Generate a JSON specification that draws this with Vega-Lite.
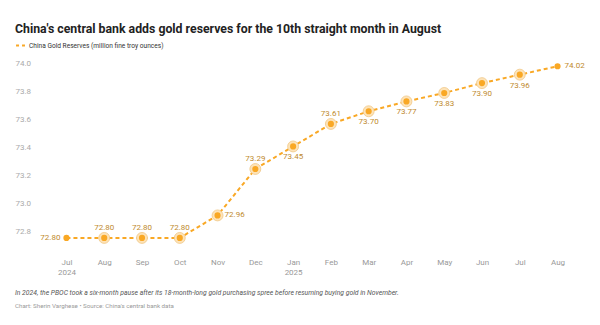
{
  "$schema": "https://vega.github.io/schema/vega-lite/v6.json",
  "padding": {"left": 15, "top": 22, "right": 5, "bottom": 5},
  "background": "white",
  "config": {"view": {"stroke": null}, "font": "Roboto"},
  "title": {
    "text": "In 2024, the PBOC took a six-month pause after its 18-month-long gold purchasing spree before resuming buying gold in November.",
    "subtitle": "Chart: Sherin Varghese • Source: China's central bank data",
    "orient": "bottom", "anchor": "start", "frame": "bounds",
    "font": "Roboto", "fontSize": 6.8, "fontStyle": "italic", "fontWeight": "normal", "color": "#555555",
    "subtitleFont": "Roboto", "subtitleFontSize": 6.2, "subtitleColor": "#999999", "subtitlePadding": 6, "offset": 14
  },
  "datasets": {
    "gold": [
      {"date": "2024-07-01", "value": 72.80},
      {"date": "2024-08-01", "value": 72.80},
      {"date": "2024-09-01", "value": 72.80},
      {"date": "2024-10-01", "value": 72.80},
      {"date": "2024-11-01", "value": 72.96},
      {"date": "2024-12-01", "value": 73.29},
      {"date": "2025-01-01", "value": 73.45},
      {"date": "2025-02-01", "value": 73.61},
      {"date": "2025-03-01", "value": 73.70},
      {"date": "2025-04-01", "value": 73.77},
      {"date": "2025-05-01", "value": 73.83},
      {"date": "2025-06-01", "value": 73.90},
      {"date": "2025-07-01", "value": 73.96},
      {"date": "2025-08-01", "value": 74.02}
    ]
  },
  "vconcat": [
    {
      "width": 544,
      "height": 190,
      "title": {
        "text": "China's central bank adds gold reserves for the 10th straight month in August",
        "anchor": "start", "frame": "bounds", "font": "Roboto", "fontSize": 12.3, "fontWeight": "bold", "color": "#222222", "offset": 24
      },
      "data": {"name": "gold"},
      "encoding": {
        "x": {
          "field": "date", "type": "ordinal",
          "scale": {"type": "point", "padding": 0.7},
          "axis": {
            "title": null, "domain": false, "ticks": false, "grid": false, "labelAngle": 0,
            "labelFont": "Roboto", "labelFontSize": 8, "labelColor": "#999999", "labelPadding": 6, "labelLineHeight": 10,
            "labelExpr": "[utcFormat(toDate(datum.value), '%b'), (datum.value == '2024-07-01' || datum.value == '2025-01-01') ? utcFormat(toDate(datum.value), '%Y') : '']"
          }
        },
        "y": {
          "field": "value", "type": "quantitative",
          "scale": {"domain": [72.7, 74.05], "nice": false, "zero": false},
          "axis": {
            "title": null, "domain": false, "ticks": false, "grid": false,
            "values": [72.8, 73.0, 73.2, 73.4, 73.6, 73.8, 74.0], "format": ".1f",
            "labelAlign": "left", "labelPadding": 25, "labelBaseline": "bottom", "labelOffset": -2,
            "labelFont": "Roboto", "labelFontSize": 8, "labelColor": "#aaaaaa"
          }
        }
      },
      "layer": [
        {
          "mark": {"type": "line", "strokeWidth": 2, "strokeDash": [4, 3]},
          "encoding": {
            "color": {
              "datum": "China Gold Reserves (million fine troy ounces)", "type": "nominal",
              "scale": {"range": ["#f9a825"]},
              "legend": {
                "title": null, "orient": "none", "legendX": -25, "legendY": -22,
                "symbolType": "stroke", "symbolDash": [3, 3], "symbolStrokeWidth": 2, "symbolSize": 80,
                "labelFont": "Roboto", "labelFontSize": 6.6, "labelColor": "#333333", "labelOffset": 3
              }
            }
          }
        },
        {
          "transform": [{"filter": "datum.date != '2024-07-01' && datum.date != '2025-08-01'"}],
          "mark": {"type": "circle", "size": 120, "fill": "#fde3b8", "stroke": "#f0c888", "strokeWidth": 0.8, "opacity": 1},
          "encoding": {}
        },
        {
          "mark": {"type": "circle", "size": 38, "color": "#f9a825", "opacity": 1},
          "encoding": {}
        },
        {
          "transform": [{"filter": "indexof(['2024-08-01','2024-09-01','2024-10-01','2024-12-01','2025-02-01'], datum.date) >= 0"}],
          "mark": {"type": "text", "dy": -10, "font": "Roboto", "fontSize": 8, "color": "#c08a2e"},
          "encoding": {"text": {"field": "value", "type": "quantitative", "format": ".2f"}}
        },
        {
          "transform": [{"filter": "indexof(['2025-01-01','2025-03-01','2025-04-01','2025-05-01','2025-06-01','2025-07-01'], datum.date) >= 0"}],
          "mark": {"type": "text", "dy": 11, "font": "Roboto", "fontSize": 8, "color": "#c08a2e"},
          "encoding": {"text": {"field": "value", "type": "quantitative", "format": ".2f"}}
        },
        {
          "transform": [{"filter": "datum.date == '2024-11-01' || datum.date == '2025-08-01'"}],
          "mark": {"type": "text", "dx": 7, "align": "left", "font": "Roboto", "fontSize": 8, "color": "#c08a2e"},
          "encoding": {"text": {"field": "value", "type": "quantitative", "format": ".2f"}}
        },
        {
          "transform": [{"filter": "datum.date == '2024-07-01'"}],
          "mark": {"type": "text", "dx": -6, "align": "right", "font": "Roboto", "fontSize": 8, "color": "#c08a2e"},
          "encoding": {"text": {"field": "value", "type": "quantitative", "format": ".2f"}}
        }
      ]
    }
  ]
}
